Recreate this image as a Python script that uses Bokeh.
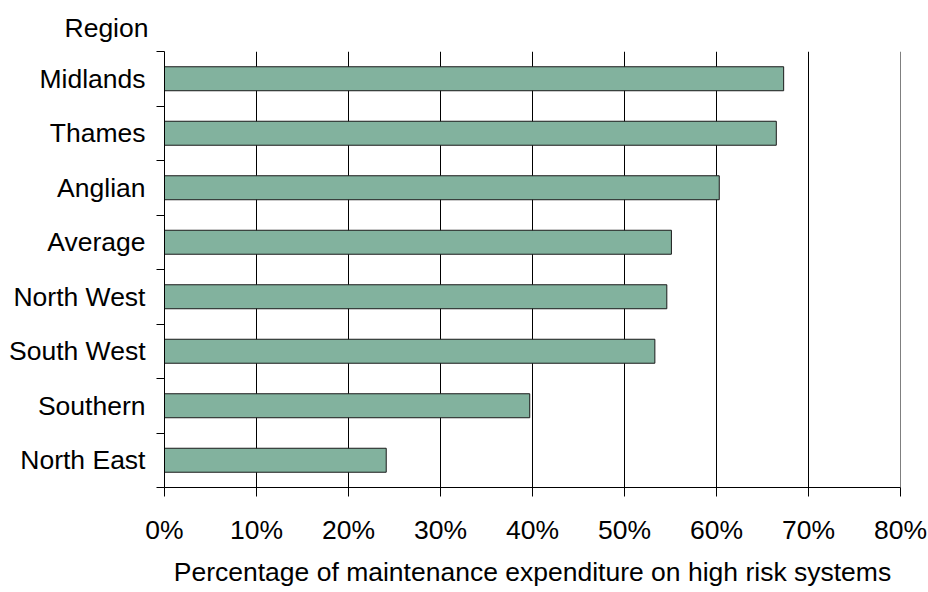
from bokeh.plotting import figure
from bokeh.models import Range1d, FixedTicker, Title, Span, PrintfTickFormatter
from bokeh.embed import file_html
from bokeh.resources import INLINE

# Regions listed top to bottom, with share of maintenance spend on high risk systems (%)
regions = ["Midlands", "Thames", "Anglian", "Average", "North West",
           "South West", "Southern", "North East"]
high_risk_share = [67.3, 66.5, 60.3, 55.1, 54.6, 53.3, 39.7, 24.1]
x_ticks = [0, 10, 20, 30, 40, 50, 60, 70, 80]

FONT = "Liberation Sans"
SIZE = "26.5px"
BAR_FILL = "#82B29E"

positions = list(range(len(regions)))

p = figure(width=928, height=592, output_backend="svg", toolbar_location=None,
           x_range=Range1d(x_ticks[0], x_ticks[-1]),
           y_range=Range1d(len(regions) - 0.5, -0.5),
           min_border_left=164, min_border_right=28,
           min_border_top=51, min_border_bottom=105)

p.hbar(y=positions, right=high_risk_share, left=0, height=0.44,
       fill_color=BAR_FILL, line_color="#1a1a1a", line_width=1)

# horizontal axis
p.xaxis.ticker = FixedTicker(ticks=x_ticks)
p.xaxis.formatter = PrintfTickFormatter(format="%d%%")
p.xaxis.axis_label = "Percentage of maintenance expenditure on high risk systems"
p.xaxis.axis_label_text_font = FONT
p.xaxis.axis_label_text_font_size = SIZE
p.xaxis.axis_label_text_font_style = "normal"
p.xaxis.axis_label_text_color = "black"
p.xaxis.axis_label_standoff = 9
p.xaxis.major_label_text_font = FONT
p.xaxis.major_label_text_font_size = SIZE
p.xaxis.major_label_text_color = "black"
p.xaxis.major_label_standoff = 18
p.xaxis.major_tick_out = 9
p.xaxis.major_tick_in = 0
p.xaxis.minor_tick_line_color = None
p.xaxis.axis_line_color = "black"
p.xaxis.major_tick_line_color = "black"

# vertical axis: names at band centres, short ticks at band boundaries
p.yaxis.ticker = FixedTicker(ticks=positions,
                             minor_ticks=[i - 0.5 for i in range(len(regions) + 1)])
p.yaxis.major_label_overrides = {i: name for i, name in enumerate(regions)}
p.yaxis.major_label_text_font = FONT
p.yaxis.major_label_text_font_size = SIZE
p.yaxis.major_label_text_color = "black"
p.yaxis.major_label_standoff = 11
p.yaxis.major_tick_line_color = None
p.yaxis.major_tick_out = 0
p.yaxis.major_tick_in = 0
p.yaxis.minor_tick_out = 8
p.yaxis.minor_tick_in = 0
p.yaxis.minor_tick_line_color = "black"
p.yaxis.axis_line_color = "black"

p.xgrid.grid_line_color = "black"
p.xgrid.grid_line_width = 1
p.ygrid.grid_line_color = None
p.outline_line_color = None

# closing gridline at the right end of the scale
p.add_layout(Span(location=x_ticks[-1], dimension="height",
                  line_color="black", line_width=1))

# heading over the category labels
p.add_layout(Title(text="Region", align="left", offset=-100, standoff=17,
                   text_font=FONT, text_font_size=SIZE, text_font_style="normal",
                   text_color="black"), "above")

open("out.html", "w").write(file_html(p, INLINE))
